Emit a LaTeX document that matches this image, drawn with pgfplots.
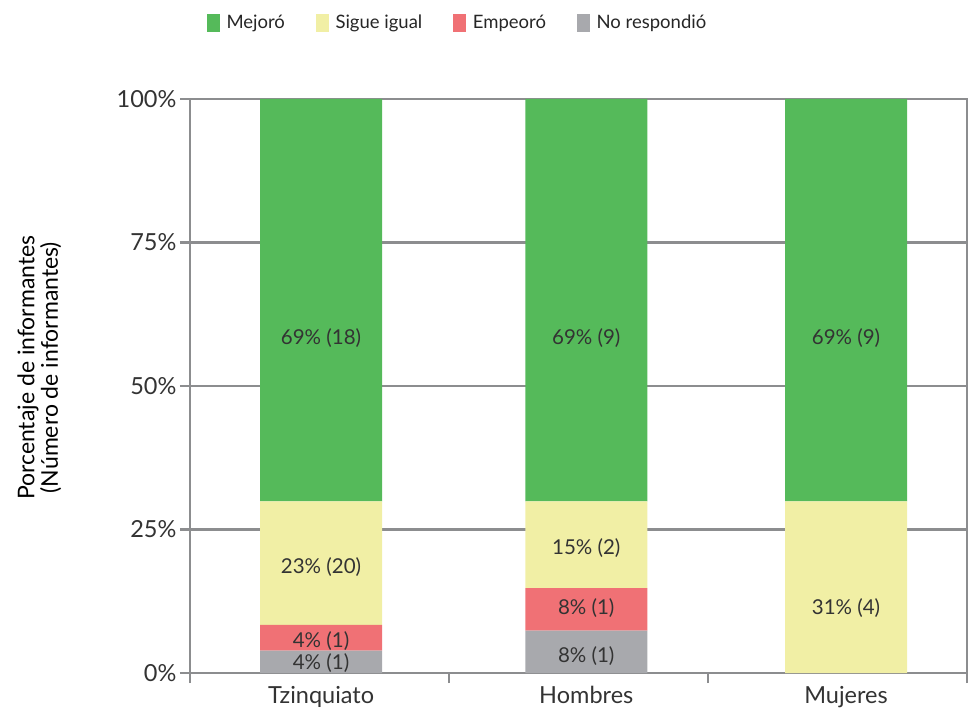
\documentclass[border=0pt]{standalone}
\usepackage{fontspec}
\setmainfont{Lato}
\usepackage{pgfplots}
\pgfplotsset{compat=1.18}
\definecolor{cgreen}{RGB}{85,186,90}
\definecolor{cyellow}{RGB}{241,239,165}
\definecolor{cred}{RGB}{240,113,117}
\definecolor{cgray}{RGB}{168,169,173}
\definecolor{axgray}{RGB}{140,141,143}
\definecolor{txt}{RGB}{51,51,51}
\begin{document}
\begin{tikzpicture}
\pgfplotsset{common/.style={scale only axis, width=777pt, height=574pt,
  xmin=-0.5, xmax=2.5, ymin=0, ymax=100, clip=false}}
\begin{axis}[common,
  ybar stacked, bar width=122pt,
  /pgf/number format/assume math mode=true,
  axis line style={axgray, line width=2.5pt},
  ytick={0,25,50,75,100},
  yticklabel={\pgfmathprintnumber{\tick}\%},
  ytick pos=left,
  ymajorgrids, grid style={axgray, line width=2.5pt},
  tick style={axgray, line width=2.5pt},
  tick align=outside, major tick length=10pt,
  xtick={-0.5,0.5,1.5,2.5}, xticklabels={}, xtick pos=bottom,
  extra x ticks={0.006,1.03,2.033},
  extra x tick labels={Tzinquiato,Hombres,Mujeres},
  extra x tick style={major tick length=0pt, xticklabel style={yshift=-10pt}},
  xticklabel style={font=\fontsize{23.5}{27}\selectfont, text=txt},
  yticklabel style={font=\fontsize{23.5}{27}\selectfont, text=txt},
  ylabel={Porcentaje de informantes\\(Número de informantes)},
  ylabel style={align=center, font=\fontsize{23}{23.5}\selectfont, text=black,
    at={(axis description cs:-0.194,0.532)}, anchor=center},
  legend columns=4,
  reverse legend,
  legend image code/.code={\fill[#1] (0pt,-9pt) rectangle (12.6pt,9pt);},
  legend style={at={(axis description cs:0.0215,1.133)}, anchor=west,
    draw=none, fill=none, inner sep=0pt,
    font=\fontsize{18.5}{22}\selectfont, text=black!85,
    /tikz/every odd column/.append style={column sep=5pt},
    /tikz/every even column/.append style={column sep=29pt}},
]
\addplot[fill=cgray, draw=none] coordinates {(0.006,3.9) (1.03,7.4) (2.033,0)};
\addplot[fill=cred, draw=none] coordinates {(0.006,4.5) (1.03,7.4) (2.033,0)};
\addplot[fill=cyellow, draw=none] coordinates {(0.006,21.5) (1.03,15.1) (2.033,29.9)};
\addplot[fill=cgreen, draw=none] coordinates {(0.006,70.1) (1.03,70.1) (2.033,70.1)};
\legend{No respondió, Empeoró, Sigue igual, Mejoró}
\end{axis}
\begin{axis}[common, hide axis,
  point meta=explicit symbolic,
  every node near coord/.style={anchor=center, font=\fontsize{20.5}{24}\selectfont, text=txt}]
\addplot[draw=none, mark=none, nodes near coords] coordinates {
  (0.006,58.4) [69\% (18)]
  (0.006,18.5) [23\% (20)]
  (0.006,5.5) [4\% (1)]
  (0.006,1.8) [4\% (1)]
  (1.03,58.4) [69\% (9)]
  (1.03,21.7) [15\% (2)]
  (1.03,11.4) [8\% (1)]
  (1.03,3.0) [8\% (1)]
  (2.033,58.4) [69\% (9)]
  (2.033,11.4) [31\% (4)]
};
\end{axis}
\pgfresetboundingbox
\useasboundingbox (-190pt,-40pt) rectangle (779pt,673pt);
\end{tikzpicture}
\end{document}
